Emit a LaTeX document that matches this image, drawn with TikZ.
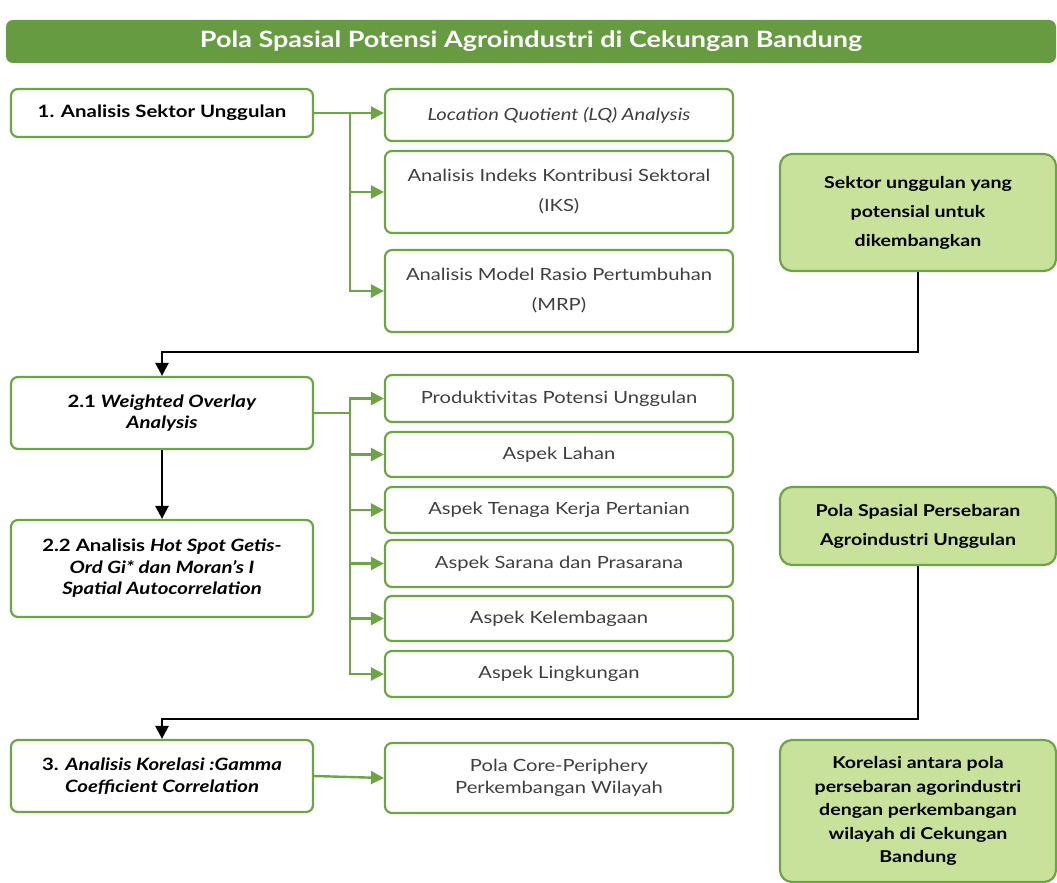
\documentclass[tikz,border=0pt]{standalone}
\usepackage{fontspec}
\setmainfont{Lato}[FakeStretch=1.2]
\usetikzlibrary{arrows.meta}
\definecolor{gr}{HTML}{6DA544}
\definecolor{titlegr}{HTML}{669B41}
\definecolor{lg}{HTML}{C8E29B}
\definecolor{tx}{HTML}{3F3F3F}
\begin{document}
\begin{tikzpicture}[x=1pt,y=-1pt,
  box/.style={draw=gr, line width=2.2pt, rounded corners=7pt, fill=white, align=center, inner sep=0pt},
  leftbox/.style={box, minimum width=302pt, font=\fontsize{17}{21.5}\selectfont\bfseries, text=black},
  rightbox/.style={box, minimum width=348pt, font=\fontsize{16.8}{30}\selectfont, text=tx},
  resbox/.style={box, fill=lg, rounded corners=12pt, minimum width=276pt, font=\fontsize{16.3}{29}\selectfont\bfseries, text=black},
  garrow/.style={draw=gr, line width=2.4pt, -{Triangle[length=13pt,width=13pt]}},
  gline/.style={draw=gr, line width=2.4pt},
  barrow/.style={draw=black, line width=2.4pt, -{Triangle[length=13pt,width=13pt]}}
]
\useasboundingbox (0,0) rectangle (1057,883);
\fill[white] (0,0) rectangle (1057,883);

% title
\node[fill=titlegr, rounded corners=7pt, minimum width=1050pt, minimum height=43pt, inner sep=0pt,
  text=white, font=\fontsize{22.5}{26}\selectfont\bfseries] (title) at (531,41.5)
  {Pola Spasial Potensi Agroindustri di Cekungan Bandung};

% section 1
\node[leftbox, minimum height=48pt] (b1) at (162,113) {1. Analisis Sektor Unggulan};
\node[rightbox, minimum height=52pt] (lq) at (559,115) {\itshape Location Quotient (LQ) Analysis};
\node[rightbox, minimum height=82pt] (iks) at (559,192) {Analisis Indeks Kontribusi Sektoral\\(IKS)};
\node[rightbox, minimum height=82pt] (mrp) at (559,291) {Analisis Model Rasio Pertumbuhan\\(MRP)};
\node[resbox, minimum height=117pt] (ga) at (918,212.5) {Sektor unggulan yang\\potensial untuk\\dikembangkan};

\coordinate (t1) at (350,113);
\draw[gline] (b1.east) -- (t1);
\draw[garrow] (t1) -- (lq.west|-t1);
\draw[garrow] (t1) |- (iks.west);
\draw[garrow] (t1) |- (mrp.west);

% section 2
\node[leftbox, minimum height=72pt] (b21) at (162,413) {2.1 \textit{Weighted Overlay}\\\textit{Analysis}};
\node[leftbox, minimum height=97pt] (b22) at (162,568.5) {2.2 Analisis \textit{Hot Spot Getis-}\\\textit{Ord Gi* dan Moran's I}\\\textit{Spatial Autocorrelation}};
\node[rightbox, minimum height=47pt] (p1) at (559,398.5) {Produktivitas Potensi Unggulan};
\node[rightbox, minimum height=45pt] (p2) at (559,454.5) {Aspek Lahan};
\node[rightbox, minimum height=46pt] (p3) at (559,510) {Aspek Tenaga Kerja Pertanian};
\node[rightbox, minimum height=47pt] (p4) at (559,563.5) {Aspek Sarana dan Prasarana};
\node[rightbox, minimum height=45pt] (p5) at (559,618.5) {Aspek Kelembagaan};
\node[rightbox, minimum height=46pt] (p6) at (559,674) {Aspek Lingkungan};
\node[resbox, minimum height=78pt] (gb) at (918,526) {Pola Spasial Persebaran\\Agroindustri Unggulan};

\draw[barrow] (ga.south) -- ++(0,80) -| (b21.north);
\draw[barrow] (b21.south) -- (b22.north);

\coordinate (t2) at (350,413);
\draw[gline] (b21.east) -- (t2);
\draw[garrow] (t2) |- (p1.west);
\draw[garrow] (t2) |- (p2.west);
\draw[garrow] (t2) |- (p3.west);
\draw[garrow] (t2) |- (p4.west);
\draw[garrow] (t2) |- (p5.west);
\draw[garrow] (t2) |- (p6.west);

% section 3
\node[leftbox, minimum height=72pt] (b3) at (162,776) {3. \textit{Analisis Korelasi :Gamma}\\\textit{Coefficient Correlation}};
\node[rightbox, minimum height=70pt, font=\fontsize{16.8}{22}\selectfont] (core) at (559,778) {Pola Core-Periphery\\Perkembangan Wilayah};
\node[resbox, minimum height=142pt, font=\fontsize{16.3}{23.5}\selectfont\bfseries] (gc) at (918,811) {Korelasi antara pola\\persebaran agorindustri\\dengan perkembangan\\wilayah di Cekungan\\Bandung};

\draw[barrow] (gb.south) -- ++(0,153) -| (b3.north);
\draw[garrow] (b3.east) -- (core.west);
\end{tikzpicture}
\end{document}
